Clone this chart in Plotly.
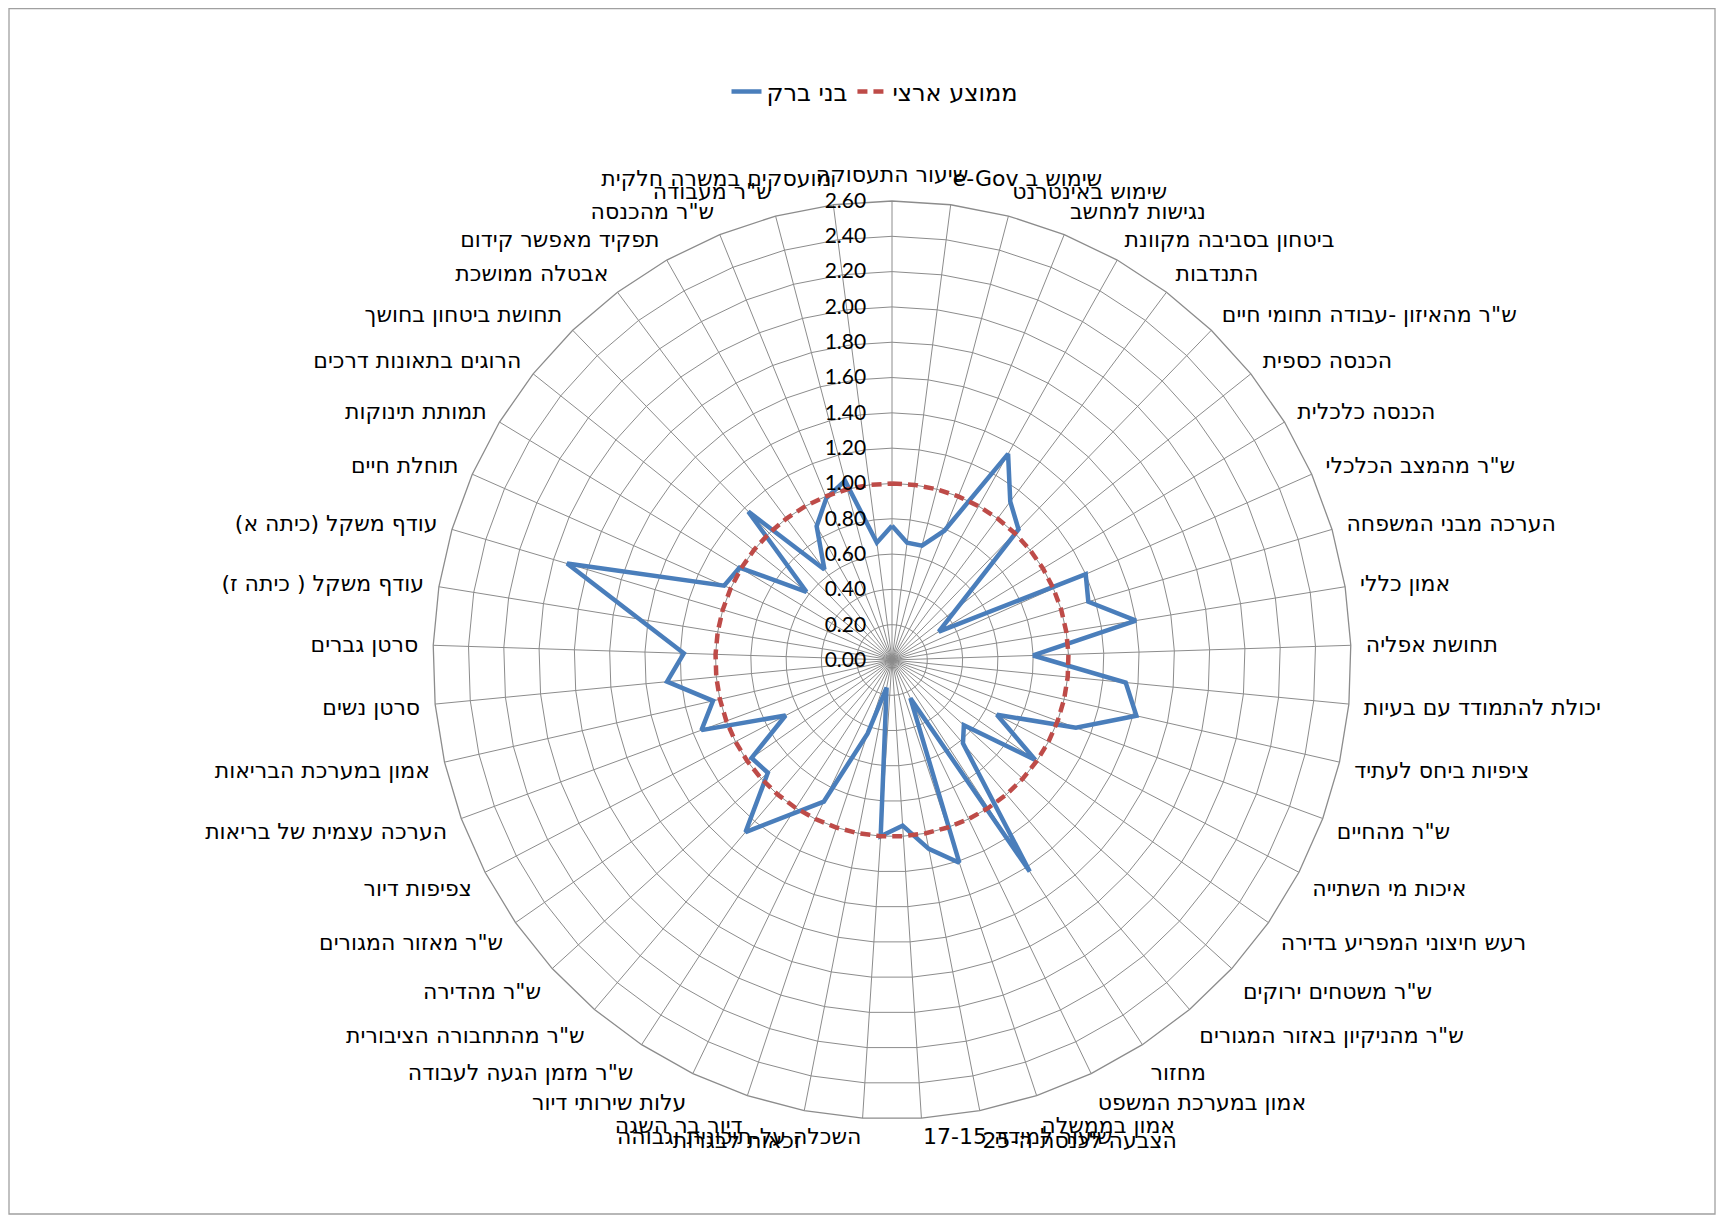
import math
import plotly.graph_objects as go

RLE, PDF = "\u202b", "\u202c"

categories = [
    "שיעור התעסוקה",
    "שימוש ב e-Gov",
    "שימוש באינטרנט",
    "נגישות למחשב",
    "ביטחון בסביבה מקוונת",
    "התנדבות",
    "ש\"ר מהאיזון -עבודה תחומי חיים",
    "הכנסה כספית",
    "הכנסה כלכלית",
    "ש\"ר מהמצב הכלכלי",
    "הערכה מבני המשפחה",
    "אמון כללי",
    "תחושת אפליה",
    "יכולת להתמודד עם בעיות",
    "ציפיות ביחס לעתיד",
    "ש\"ר מהחיים",
    "איכות מי השתייה",
    "רעש חיצוני המפריע בדירה",
    "ש\"ר משטחים ירוקים",
    "ש\"ר מהניקיון באזור המגורים",
    "מחזור",
    "אמון במערכת המשפט",
    "אמון בממשלה",
    "הצבעה לכנסת ה-25",
    "שיעור למידה 17-15",
    "השכלה על-תיכונית וגבוהה",
    "זכאות לבגרות",
    "דיור בר השגה",
    "עלות שירותי דיור",
    "ש\"ר מזמן הגעה לעבודה",
    "ש\"ר מהתחבורה הציבורית",
    "ש\"ר מהדירה",
    "ש\"ר מאזור המגורים",
    "צפיפות דיור",
    "הערכה עצמית של בריאות",
    "אמון במערכת הבריאות",
    "סרטן נשים",
    "סרטן גברים",
    "עודף משקל ( כיתה ז)",
    "עודף משקל (כיתה א)",
    "תוחלת חיים",
    "תמותת תינוקות",
    "הרוגים בתאונות דרכים",
    "תחושת ביטחון בחושך",
    "אבטלה ממושכת",
    "תפקיד מאפשר קידום",
    "ש\"ר מהכנסה",
    "ש\"ר מעבודה",
    "מועסקים במשרה חלקית",
]

bnei_brak = [
    0.76, 0.67, 0.67, 0.79, 1.34, 1.12, 1.03, None, 0.31, 1.20,
    1.16, 1.40, 0.80, 1.33, 1.42, 1.11, 0.67, 0.99, 0.55, 0.62,
    1.43, 0.24, 1.21, 1.09, 0.94, 1.00, 0.16, 0.44, 0.89, None,
    1.28, 0.95, 0.97, 0.68, 1.15, 1.04, 1.28, 1.18, None, 1.92,
    1.04, 1.01, 0.62, 1.17, 0.64, 0.87, 0.99, 1.05, 0.67,
]

national_avg = [
    1.00, 1.00, 1.00, 1.00, 1.00, 1.00, 1.00, 1.00, 1.00, 1.00,
    1.00, 1.00, 1.00, 1.00, 1.00, 1.00, 1.00, 1.00, 1.00, 1.00,
    1.00, 1.00, 1.00, 1.00, 1.00, 1.00, 1.00, 1.00, 1.00, 1.00,
    1.00, 1.00, 1.00, 1.00, 1.00, 1.00, 1.00, 1.00, 1.00, 1.00,
    1.00, 1.00, 1.00, 1.00, 1.00, 1.00, 1.00, 1.00, 1.00,
]

radial_ticks = [0.0, 0.2, 0.4, 0.6, 0.8, 1.0, 1.2, 1.4, 1.6, 1.8, 2.0, 2.2, 2.4, 2.6]

series_names = ["בני ברק", "ממוצע ארצי"]

labels = [RLE + c + PDF for c in categories]
theta_closed = labels + [labels[0]]
n = len(labels)

# the two labels nearest the bottom are side-anchored like the original (drawn as annotations)
side_anchored = {24: "left", 25: "right"}
ticktext = ["" if i in side_anchored else lab for i, lab in enumerate(labels)]

fig = go.Figure()
fig.add_trace(go.Scatterpolar(
    r=bnei_brak + [bnei_brak[0]], theta=theta_closed,
    mode="lines", name=RLE + series_names[0] + PDF,
    line=dict(color="#4A7EBB", width=4.5),
    connectgaps=True,
))
fig.add_trace(go.Scatterpolar(
    r=national_avg + [national_avg[0]], theta=theta_closed,
    mode="lines", name=RLE + series_names[1] + PDF,
    line=dict(color="#BE4B48", width=4.5, dash="10px,6px"),
))

# page has an 8px body margin: figure sized to fit the window
W, H = 1708, 1207
cx, cy, R = 884, 652, 459

annotations = []
for i, anchor in side_anchored.items():
    ang = math.radians(i * 360.0 / n)
    px = cx + R * math.sin(ang)
    py = cy - R * math.cos(ang) + 18
    annotations.append(dict(
        x=px / W, y=1 - py / H, xref="paper", yref="paper",
        text=labels[i], showarrow=False, xanchor=anchor, yanchor="middle",
        font=dict(family="DejaVu Sans", size=22, color="black"),
    ))

fig.update_layout(
    width=W, height=H,
    margin=dict(l=0, r=0, t=0, b=0),
    paper_bgcolor="white",
    plot_bgcolor="white",
    font=dict(family="DejaVu Sans", size=22, color="black"),
    showlegend=True,
    legend=dict(
        orientation="h", x=867 / W, y=1 - 84 / H, xanchor="center", yanchor="middle",
        font=dict(family="DejaVu Sans", size=24, color="black"),
        bgcolor="rgba(0,0,0,0)",
    ),
    polar=dict(
        domain=dict(x=[(cx - R) / W, (cx + R) / W], y=[(H - cy - R) / H, (H - cy + R) / H]),
        bgcolor="white",
        gridshape="linear",
        radialaxis=dict(
            range=[0, 2.6], tickvals=radial_ticks, tickformat=".2f",
            angle=90, tickangle=90, side="counterclockwise",
            showline=False, ticks="outside", ticklen=18, tickcolor="rgba(0,0,0,0)",
            gridcolor="#8C8C8C", gridwidth=1.3,
            tickfont=dict(family="Lato", size=21, color="black"),
        ),
        angularaxis=dict(
            type="category", categoryarray=labels,
            tickmode="array", tickvals=labels, ticktext=ticktext,
            direction="clockwise", rotation=90,
            showline=True, linecolor="#8C8C8C", linewidth=1.3,
            gridcolor="#8C8C8C", gridwidth=1.3,
            ticks="outside", ticklen=10, tickcolor="rgba(0,0,0,0)",
            tickfont=dict(family="DejaVu Sans", size=22, color="black"),
        ),
    ),
    annotations=annotations,
    shapes=[dict(
        type="rect", xref="paper", yref="paper",
        x0=1 / W, x1=1707 / W, y0=1 - 1206 / H, y1=1 - 0.7 / H,
        line=dict(color="#A0A0A0", width=1.3), fillcolor="rgba(0,0,0,0)", layer="below",
    )],
)

fig.write_html("out.html")
